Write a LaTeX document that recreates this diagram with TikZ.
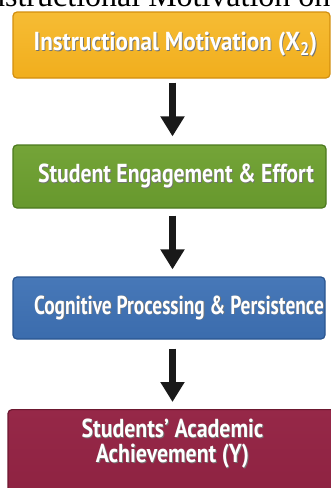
\documentclass[tikz,border=0pt]{standalone}
\usepackage{fontspec}
\setmainfont{Liberation Serif}
% bold sans lettering at a few horizontal widths
\newfontfamily\fontMotiv[FakeStretch=0.89]{PT Sans}
\newfontfamily\fontEngage[FakeStretch=0.835]{PT Sans}
\newfontfamily\fontCog[FakeStretch=0.745]{PT Sans}
\newfontfamily\fontAch[FakeStretch=0.84]{PT Sans}
\usetikzlibrary{arrows.meta}

% white lettering with a soft dark drop shadow
\newcommand\shadowed[1]{\leavevmode\rlap{\kern0.9pt\raisebox{-0.9pt}{\color{black!55}#1}}#1}

\definecolor{motivFill}{HTML}{F1AE1D}
\definecolor{motivTop}{HTML}{F6BC34}
\definecolor{motivEdge}{HTML}{D38F0E}
\definecolor{engageFill}{HTML}{67982D}
\definecolor{engageTop}{HTML}{74A438}
\definecolor{engageEdge}{HTML}{4C7A1E}
\definecolor{cogFill}{HTML}{3B6CAD}
\definecolor{cogTop}{HTML}{4778B8}
\definecolor{cogEdge}{HTML}{2A5590}
\definecolor{achFill}{HTML}{8C2140}
\definecolor{achTop}{HTML}{962848}
\definecolor{achEdge}{HTML}{6C1830}

\tikzset{
  stage/.style={rounded corners=4pt, line width=1.2pt, inner sep=0pt},
  stagetext/.style={text=white, align=center, inner sep=0pt},
  flow/.style={line width=7pt, -{Triangle[width=23pt,length=20pt]}, black!90}
}

\begin{document}
\begin{tikzpicture}[x=1pt,y=1pt]
  \useasboundingbox (0,0) rectangle (331,-488);
  \clip (0,0) rectangle (331,-488);
  \fill[white] (0,0) rectangle (331,-488);

  % caption line running off the top edge
  \node[anchor=base west, inner sep=0pt, font=\fontsize{32}{34}\selectfont] (caption) at (-21.7,-6.5) {Instructional Motivation on};

  % stage boxes
  \node[stage, draw=motivEdge, top color=motivTop, bottom color=motivFill,
        minimum width=317pt, minimum height=66pt] (motiv) at (171.5,-45) {};
  \node[stagetext, font=\fontMotiv\bfseries\fontsize{26}{28}\selectfont] (motivText) at (175.5,-45)
        {\shadowed{Instructional Motivation (X\textsubscript{2})}};

  \node[stage, draw=engageEdge, top color=engageTop, bottom color=engageFill,
        minimum width=313pt, minimum height=63pt] (engage) at (169.5,-176.5) {};
  \node[stagetext, font=\fontEngage\bfseries\fontsize{26}{28}\selectfont] (engageText) at (176,-176.5)
        {\shadowed{Student Engagement \& Effort}};

  \node[stage, draw=cogEdge, top color=cogTop, bottom color=cogFill,
        minimum width=312pt, minimum height=62pt] (cog) at (169,-308) {};
  \node[stagetext, font=\fontCog\bfseries\fontsize{26}{28}\selectfont] (cogText) at (179,-308)
        {\shadowed{Cognitive Processing \& Persistence}};

  \node[stage, draw=achEdge, top color=achTop, bottom color=achFill,
        minimum width=327pt, minimum height=110pt, anchor=north] (ach) at (171.5,-409) {};
  \node[stagetext, font=\fontAch\bfseries\fontsize{26}{25}\selectfont] (achText) at (172.5,-444)
        {\shadowed{Students’ Academic}\\\shadowed{Achievement (Y)}};

  % arrows between the stages
  \coordinate (axis) at (172.5,0);
  \draw[flow, shorten <=4pt, shorten >=8pt] (motiv.south -| axis) -- (engage.north -| axis);
  \draw[flow, shorten <=7pt, shorten >=7pt] (engage.south -| axis) -- (cog.north -| axis);
  \draw[flow, shorten <=9pt, shorten >=7pt] (cog.south -| axis) -- (ach.north -| axis);
\end{tikzpicture}
\end{document}
